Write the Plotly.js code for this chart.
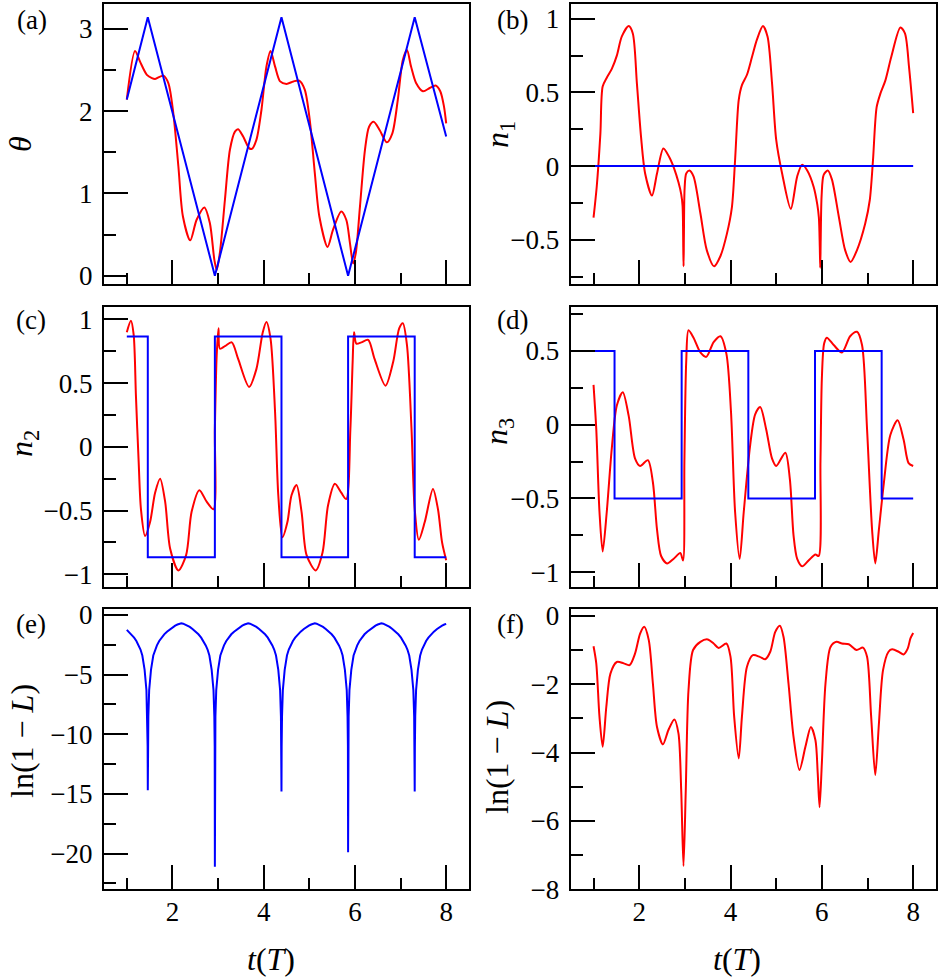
<!DOCTYPE html>
<html><head><meta charset="utf-8">
<script src="https://cdn.plot.ly/plotly-3.0.1.min.js"></script>
<style>html,body{margin:0;padding:0;background:#fff;} #plot{width:938px;height:980px;}</style>
</head><body><div id="plot"></div>
<script>
// ---------- data ----------
const switchTimes = [1.00, 1.46, 2.93, 4.39, 5.85, 7.31, 8.00];
const thetaBlueT = [1.00, 1.46, 2.93, 4.39, 5.85, 7.31, 8.00];
const thetaBlueV = [2.14, 3.14, 0.00, 3.14, 0.00, 3.14, 1.69];
const n1BlueT = [1.00, 8.00];
const n1BlueV = [0, 0];
const n2BlueV = [0.866, -0.866, 0.866, -0.866, 0.866, -0.866, -0.866];
const n3BlueV = [0.5, -0.5, 0.5, -0.5, 0.5, -0.5, -0.5];

const thetaRed = [[1.00,2.14],[1.18,2.73],[1.29,2.60],[1.44,2.44],[1.55,2.40],[1.62,2.39],[1.80,2.43],[1.91,2.34],[2.02,1.97],[2.13,1.33],[2.23,0.72],[2.39,0.43],[2.53,0.68],[2.70,0.83],[2.82,0.64],[2.92,0.19],[2.97,0.07],[3.04,0.28],[3.15,0.92],[3.26,1.53],[3.37,1.75],[3.44,1.78],[3.55,1.69],[3.68,1.55],[3.74,1.54],[3.84,1.65],[3.95,2.01],[4.06,2.54],[4.15,2.73],[4.25,2.54],[4.36,2.36],[4.50,2.33],[4.65,2.36],[4.78,2.37],[4.90,2.26],[5.01,1.89],[5.12,1.25],[5.22,0.72],[5.40,0.35],[5.52,0.56],[5.70,0.78],[5.81,0.68],[5.89,0.40],[5.96,0.15],[6.02,0.28],[6.11,0.84],[6.22,1.53],[6.31,1.81],[6.41,1.87],[6.54,1.77],[6.70,1.62],[6.82,1.73],[6.94,2.14],[7.05,2.62],[7.14,2.74],[7.23,2.54],[7.34,2.34],[7.49,2.24],[7.64,2.28],[7.77,2.31],[7.87,2.24],[7.95,2.06],[8.00,1.85]];

const n1Red = [[1.00,-0.35],[1.07,-0.14],[1.15,0.22],[1.20,0.54],[1.29,0.60],[1.40,0.66],[1.51,0.75],[1.62,0.88],[1.77,0.95],[1.86,0.90],[1.95,0.56],[2.04,0.20],[2.13,-0.05],[2.28,-0.20],[2.39,-0.05],[2.53,0.12],[2.66,0.06],[2.77,-0.02],[2.86,-0.11],[2.92,-0.19],[2.95,-0.27],[2.965,-0.55],[2.972,-0.68],[2.98,-0.45],[2.995,-0.15],[3.03,-0.05],[3.10,-0.03],[3.19,-0.07],[3.34,-0.32],[3.48,-0.57],[3.64,-0.68],[3.78,-0.61],[3.92,-0.46],[4.03,-0.28],[4.10,0.04],[4.18,0.45],[4.25,0.55],[4.36,0.62],[4.47,0.74],[4.58,0.86],[4.71,0.95],[4.81,0.88],[4.91,0.56],[5.00,0.18],[5.13,-0.05],[5.32,-0.29],[5.46,-0.07],[5.57,0.01],[5.68,-0.03],[5.82,-0.14],[5.90,-0.26],[5.935,-0.35],[5.955,-0.55],[5.965,-0.69],[5.975,-0.50],[5.995,-0.20],[6.04,-0.06],[6.13,-0.03],[6.22,-0.09],[6.37,-0.34],[6.51,-0.57],[6.63,-0.65],[6.77,-0.57],[6.95,-0.39],[7.05,-0.23],[7.12,0.04],[7.20,0.40],[7.28,0.49],[7.39,0.58],[7.52,0.74],[7.72,0.94],[7.82,0.90],[7.91,0.67],[8.00,0.36]];

const n2Red = [[1.00,0.90],[1.09,0.99],[1.15,0.88],[1.20,0.40],[1.26,-0.12],[1.31,-0.49],[1.40,-0.70],[1.51,-0.59],[1.62,-0.36],[1.73,-0.25],[1.84,-0.43],[1.95,-0.80],[2.13,-0.97],[2.30,-0.85],[2.42,-0.51],[2.59,-0.34],[2.75,-0.43],[2.90,-0.49],[2.93,0.14],[2.97,0.72],[3.01,0.93],[3.04,0.77],[3.15,0.79],[3.30,0.82],[3.44,0.69],[3.68,0.47],[3.84,0.61],[3.98,0.90],[4.06,0.98],[4.15,0.85],[4.25,0.27],[4.32,-0.38],[4.41,-0.71],[4.52,-0.59],[4.61,-0.38],[4.72,-0.30],[4.83,-0.51],[4.94,-0.85],[5.14,-0.97],[5.29,-0.83],[5.41,-0.46],[5.56,-0.29],[5.70,-0.36],[5.81,-0.41],[5.90,0.14],[5.95,0.67],[5.98,0.90],[6.03,0.81],[6.14,0.82],[6.29,0.84],[6.43,0.69],[6.67,0.48],[6.84,0.67],[6.97,0.93],[7.05,0.97],[7.14,0.80],[7.24,0.14],[7.31,-0.49],[7.40,-0.73],[7.53,-0.59],[7.71,-0.33],[7.82,-0.49],[7.91,-0.75],[8.00,-0.89]];

const n3Red = [[1.00,0.27],[1.06,-0.03],[1.13,-0.59],[1.20,-0.86],[1.29,-0.59],[1.40,-0.16],[1.51,0.13],[1.64,0.22],[1.77,0.06],[1.91,-0.23],[2.02,-0.28],[2.19,-0.24],[2.30,-0.39],[2.39,-0.71],[2.48,-0.89],[2.61,-0.94],[2.75,-0.91],[2.90,-0.87],[2.96,-0.92],[2.99,-0.25],[3.03,0.43],[3.08,0.64],[3.19,0.59],[3.34,0.49],[3.47,0.46],[3.63,0.56],[3.78,0.60],[3.91,0.48],[4.01,0.09],[4.10,-0.59],[4.20,-0.91],[4.29,-0.59],[4.43,-0.14],[4.54,0.07],[4.65,0.12],[4.78,-0.03],[4.91,-0.23],[5.00,-0.28],[5.20,-0.19],[5.30,-0.37],[5.38,-0.75],[5.46,-0.91],[5.57,-0.96],[5.71,-0.92],[5.86,-0.88],[5.93,-0.89],[5.97,-0.25],[6.00,0.31],[6.05,0.55],[6.11,0.59],[6.26,0.54],[6.44,0.49],[6.62,0.60],[6.77,0.63],[6.88,0.54],[6.99,-0.03],[7.10,-0.71],[7.17,-0.94],[7.25,-0.71],[7.36,-0.39],[7.50,-0.07],[7.66,0.03],[7.79,-0.10],[7.90,-0.26],[8.00,-0.28]];

const lnBlue = [[1.00,-1.25],[1.04,-1.4],[1.10,-1.62],[1.16,-1.9],[1.21,-2.18],[1.26,-2.55],[1.30,-2.9],[1.34,-3.4],[1.39,-4.6],[1.43,-6.3],[1.448,-8.5],[1.456,-11],[1.46,-14.7],
 [1.464,-11],[1.472,-8.5],[1.49,-6.3],[1.53,-4.6],[1.58,-3.4],[1.62,-2.9],[1.66,-2.55],[1.71,-2.18],[1.76,-1.9],[1.82,-1.62],[1.88,-1.4],[1.95,-1.18],[2.01,-1.0],[2.06,-0.89],[2.11,-0.8],[2.155,-0.73],[2.195,-0.7],[2.235,-0.73],[2.28,-0.8],[2.33,-0.89],[2.38,-1.0],[2.44,-1.18],[2.51,-1.4],[2.57,-1.62],[2.63,-1.9],[2.68,-2.18],[2.73,-2.55],[2.77,-2.9],[2.81,-3.4],[2.86,-4.6],[2.90,-6.3],[2.918,-8.5],[2.926,-11],[2.93,-21.1],
 [2.934,-11],[2.942,-8.5],[2.96,-6.3],[3.00,-4.6],[3.05,-3.4],[3.09,-2.9],[3.13,-2.55],[3.18,-2.18],[3.23,-1.9],[3.29,-1.62],[3.35,-1.4],[3.42,-1.18],[3.48,-1.0],[3.53,-0.89],[3.58,-0.8],[3.62,-0.73],[3.66,-0.7],[3.70,-0.73],[3.74,-0.8],[3.79,-0.89],[3.84,-1.0],[3.90,-1.18],[3.97,-1.4],[4.03,-1.62],[4.09,-1.9],[4.14,-2.18],[4.19,-2.55],[4.23,-2.9],[4.27,-3.4],[4.32,-4.6],[4.36,-6.3],[4.378,-8.5],[4.386,-11],[4.39,-14.8],
 [4.394,-11],[4.402,-8.5],[4.42,-6.3],[4.46,-4.6],[4.51,-3.4],[4.55,-2.9],[4.59,-2.55],[4.64,-2.18],[4.69,-1.9],[4.75,-1.62],[4.81,-1.4],[4.88,-1.18],[4.94,-1.0],[4.99,-0.89],[5.04,-0.8],[5.08,-0.73],[5.12,-0.7],[5.16,-0.73],[5.20,-0.8],[5.25,-0.89],[5.30,-1.0],[5.36,-1.18],[5.43,-1.4],[5.49,-1.62],[5.55,-1.9],[5.60,-2.18],[5.65,-2.55],[5.69,-2.9],[5.73,-3.4],[5.78,-4.6],[5.82,-6.3],[5.838,-8.5],[5.846,-11],[5.85,-19.9],
 [5.854,-11],[5.862,-8.5],[5.88,-6.3],[5.92,-4.6],[5.97,-3.4],[6.01,-2.9],[6.05,-2.55],[6.10,-2.18],[6.15,-1.9],[6.21,-1.62],[6.27,-1.4],[6.34,-1.18],[6.40,-1.0],[6.45,-0.89],[6.50,-0.8],[6.54,-0.73],[6.58,-0.7],[6.62,-0.73],[6.66,-0.8],[6.71,-0.89],[6.76,-1.0],[6.82,-1.18],[6.89,-1.4],[6.95,-1.62],[7.01,-1.9],[7.06,-2.18],[7.11,-2.55],[7.15,-2.9],[7.19,-3.4],[7.24,-4.6],[7.28,-6.3],[7.298,-8.5],[7.306,-11],[7.31,-14.8],
 [7.314,-11],[7.322,-8.5],[7.34,-6.3],[7.38,-4.6],[7.43,-3.4],[7.47,-2.9],[7.51,-2.55],[7.56,-2.18],[7.61,-1.9],[7.67,-1.62],[7.73,-1.4],[7.80,-1.18],[7.86,-1.0],[7.91,-0.89],[7.96,-0.8],[8.00,-0.75]];

const lnRed = [[1.00,-0.89],[1.06,-1.39],[1.13,-2.95],[1.20,-3.83],[1.28,-2.66],[1.37,-1.69],[1.51,-1.35],[1.66,-1.39],[1.79,-1.44],[1.91,-1.10],[2.02,-0.52],[2.11,-0.32],[2.21,-0.71],[2.30,-1.98],[2.39,-3.25],[2.52,-3.76],[2.64,-3.34],[2.77,-3.03],[2.86,-3.44],[2.92,-5.10],[2.97,-7.32],[3.02,-5.10],[3.08,-2.17],[3.18,-1.00],[3.34,-0.76],[3.50,-0.69],[3.63,-0.81],[3.74,-0.94],[3.91,-0.81],[4.00,-1.20],[4.08,-2.95],[4.18,-4.17],[4.25,-2.95],[4.36,-1.49],[4.49,-1.15],[4.64,-1.20],[4.76,-1.27],[4.87,-1.05],[4.98,-0.47],[5.08,-0.29],[5.16,-0.61],[5.27,-1.98],[5.38,-3.54],[5.51,-4.51],[5.64,-3.83],[5.76,-3.25],[5.86,-3.64],[5.91,-4.61],[5.95,-5.60],[6.00,-4.32],[6.08,-1.98],[6.19,-0.91],[6.32,-0.76],[6.44,-0.81],[6.59,-0.83],[6.76,-1.00],[6.90,-0.93],[6.99,-1.20],[7.08,-2.95],[7.17,-4.66],[7.25,-3.15],[7.34,-1.59],[7.46,-1.05],[7.54,-0.98],[7.68,-1.05],[7.79,-1.13],[7.88,-0.96],[7.94,-0.66],[8.00,-0.50]];

const panelLabels = ['(a)','(b)','(c)','(d)','(e)','(f)'];
const yTitles = ['<i>θ</i>','<i>n</i><sub>1</sub>','<i>n</i><sub>2</sub>','<i>n</i><sub>3</sub>','ln(1 − <i>L</i>)','ln(1 − <i>L</i>)'];
const xTitle = '<i>t</i>(<i>T</i>)';

// ---------- layout helpers ----------
const W = 938, H = 980;
const FONT = 'Liberation Serif, Times New Roman, serif';
const RED = '#ff0000', BLUE = '#0000ff';
const xd = (l, r) => [l / W, r / W];
const yd = (t, b) => [1 - b / H, 1 - t / H];
const colL = xd(104, 469), colR = xd(570.7, 936);
const row1 = yd(4, 284), row2 = yd(306.7, 587), row3 = yd(609, 889.3);

function xaxis(domain, anchor, labels) {
  return {domain, anchor, range: [0.5, 8.5], tick0: 0, dtick: 2,
    ticks: 'inside', ticklen: 24, tickwidth: 2, tickcolor: '#000',
    minor: {tick0: 0, dtick: 1, ticks: 'inside', ticklen: 11, tickwidth: 2, tickcolor: '#000', showgrid: false},
    showline: true, mirror: true, linecolor: '#000', linewidth: 2,
    showgrid: false, zeroline: false, showticklabels: labels,
    tickfont: {family: FONT, size: 27, color: '#000'}, ticklabelstandoff: -3, fixedrange: true};
}
function yaxis(domain, anchor, range, dtick, mdtick) {
  return {domain, anchor, range, tick0: 0, dtick,
    ticks: 'inside', ticklen: 24, tickwidth: 2, tickcolor: '#000',
    minor: {tick0: 0, dtick: mdtick, ticks: 'inside', ticklen: 12, tickwidth: 2, tickcolor: '#000', showgrid: false},
    showline: true, mirror: true, linecolor: '#000', linewidth: 2,
    showgrid: false, zeroline: false,
    tickfont: {family: FONT, size: 27, color: '#000'}, ticklabelstandoff: 4, fixedrange: true};
}
const px = p => p.map(q => q[0]);
const py = p => p.map(q => q[1]);
function red(pairs, ax) {
  return {x: px(pairs), y: py(pairs), xaxis: 'x' + ax, yaxis: 'y' + ax, mode: 'lines',
    line: {color: RED, width: 2, shape: 'spline', smoothing: 0.8}, hoverinfo: 'skip'};
}
function blue(x, y, ax, shape) {
  return {x, y, xaxis: 'x' + ax, yaxis: 'y' + ax, mode: 'lines',
    line: {color: BLUE, width: 2, shape: shape || 'linear'}, hoverinfo: 'skip'};
}

const data = [
  red(thetaRed, ''), blue(thetaBlueT, thetaBlueV, ''),
  red(n1Red, '2'), blue(n1BlueT, n1BlueV, '2'),
  red(n2Red, '3'), blue(switchTimes, n2BlueV, '3', 'hv'),
  red(n3Red, '4'), blue(switchTimes, n3BlueV, '4', 'hv'),
  blue(px(lnBlue), py(lnBlue), '5'),
  red(lnRed, '6')
];

function ann(text, x, y, size, angle) {
  return {text, x: x / W, y: 1 - y / H, xref: 'paper', yref: 'paper', showarrow: false,
    xanchor: 'center', yanchor: 'middle', textangle: angle || 0,
    font: {family: FONT, size, color: '#000'}};
}

const layout = {
  width: W, height: H, margin: {l: 0, r: 0, t: 0, b: 0},
  paper_bgcolor: '#fff', plot_bgcolor: '#fff', showlegend: false,
  font: {family: FONT, color: '#000'},
  xaxis: xaxis(colL, 'y', false),   yaxis: yaxis(row1, 'x', [-0.1, 3.3], 1, 0.5),
  xaxis2: xaxis(colR, 'y2', false), yaxis2: yaxis(row1, 'x2', [-0.8, 1.1], 0.5, 0.25),
  xaxis3: xaxis(colL, 'y3', false), yaxis3: yaxis(row2, 'x3', [-1.1, 1.1], 0.5, 0.25),
  xaxis4: xaxis(colR, 'y4', false), yaxis4: yaxis(row2, 'x4', [-1.1, 0.8], 0.5, 0.25),
  xaxis5: xaxis(colL, 'y5', true),  yaxis5: yaxis(row3, 'x5', [-23, 0.5], 5, 2.5),
  xaxis6: xaxis(colR, 'y6', true),  yaxis6: yaxis(row3, 'x6', [-8, 0.2], 2, 1),
  annotations: [
    ann(panelLabels[0], 32, 20, 27), ann(panelLabels[1], 512, 20, 27),
    ann(panelLabels[2], 31, 320, 27), ann(panelLabels[3], 512, 320, 27),
    ann(panelLabels[4], 31, 624, 27), ann(panelLabels[5], 510, 624, 27),
    ann(yTitles[0], 20, 144, 32, -90), ann(yTitles[1], 499, 135, 32, -90),
    ann(yTitles[2], 23, 444, 32, -90), ann(yTitles[3], 499, 432, 32, -90),
    ann(yTitles[4], 22, 741, 32, -90), ann(yTitles[5], 497, 757, 32, -90),
    ann(xTitle, 271, 959, 32), ann(xTitle, 737, 959, 32)
  ]
};

Plotly.newPlot('plot', data, layout, {displayModeBar: false, staticPlot: true});
</script>
</body></html>
